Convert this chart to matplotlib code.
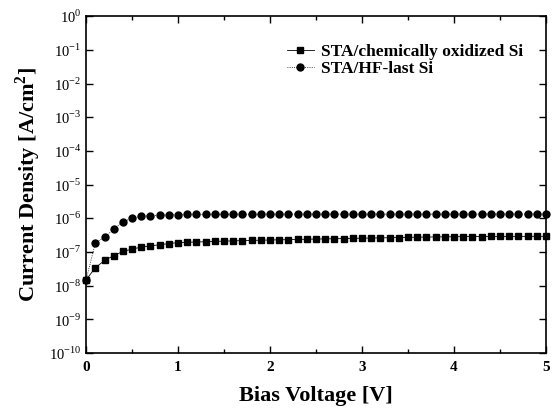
import numpy as np
import matplotlib
matplotlib.use("Agg")
import matplotlib.pyplot as plt
from matplotlib.ticker import FixedLocator, NullLocator, MultipleLocator

voltage = [round(0.1 * i, 1) for i in range(51)]

chem_ox = [1.5e-8, 3.4e-8, 5.6e-8, 7.8e-8, 1.04e-7, 1.22e-7, 1.40e-7, 1.52e-7, 1.64e-7, 1.78e-7,
           1.90e-7, 1.95e-7, 1.98e-7, 2.02e-7, 2.06e-7, 2.10e-7, 2.14e-7, 2.18e-7, 2.21e-7, 2.24e-7,
           2.27e-7, 2.30e-7, 2.33e-7, 2.36e-7, 2.39e-7, 2.42e-7, 2.45e-7, 2.48e-7, 2.51e-7, 2.54e-7,
           2.57e-7, 2.60e-7, 2.63e-7, 2.66e-7, 2.69e-7, 2.72e-7, 2.75e-7, 2.78e-7, 2.80e-7, 2.82e-7,
           2.84e-7, 2.86e-7, 2.87e-7, 2.88e-7, 2.89e-7, 2.90e-7, 2.90e-7, 2.91e-7, 2.91e-7, 2.92e-7,
           2.92e-7]

hf_last = [1.5e-8, 1.84e-7, 2.76e-7, 4.7e-7, 8.0e-7, 1.0e-6, 1.15e-6, 1.20e-6, 1.24e-6, 1.27e-6,
           1.29e-6, 1.30e-6, 1.30e-6, 1.31e-6, 1.31e-6, 1.31e-6, 1.32e-6, 1.32e-6, 1.32e-6, 1.32e-6,
           1.33e-6, 1.33e-6, 1.33e-6, 1.33e-6, 1.33e-6, 1.33e-6, 1.33e-6, 1.33e-6, 1.33e-6, 1.33e-6,
           1.33e-6, 1.33e-6, 1.33e-6, 1.33e-6, 1.33e-6, 1.33e-6, 1.33e-6, 1.33e-6, 1.33e-6, 1.33e-6,
           1.33e-6, 1.33e-6, 1.33e-6, 1.33e-6, 1.34e-6, 1.34e-6, 1.34e-6, 1.34e-6, 1.34e-6, 1.34e-6,
           1.34e-6]

labels = ["STA/chemically oxidized Si", "STA/HF-last Si"]
y_exponents = list(range(-10, 1))
x_ticks = [0, 1, 2, 3, 4, 5]

plt.rcParams['font.family'] = ['Liberation Serif', 'DejaVu Serif']
plt.rcParams['mathtext.fontset'] = 'custom'
plt.rcParams['mathtext.rm'] = 'Liberation Serif'
plt.rcParams['mathtext.bf'] = 'Liberation Serif:bold'

fig = plt.figure(figsize=(5.52, 4.13), dpi=100)
ax = fig.add_axes([0.156, 0.145, 0.833, 0.816])

ax.plot(voltage, chem_ox, color='black', linestyle='-', linewidth=0.6, marker='s',
        markersize=4.6, label=labels[0], clip_on=False)
ax.plot(voltage, hf_last, color='black', linestyle=':', linewidth=0.6, marker='o',
        markersize=5.0, label=labels[1], clip_on=False)

ax.set_yscale('log')
ax.set_xlim(0, 5)
ax.set_ylim(1e-10, 1)

ax.yaxis.set_major_locator(FixedLocator([10.0 ** e for e in y_exponents]))
ax.yaxis.set_minor_locator(NullLocator())
ax.set_yticklabels([r'$10^{%d}$' % e for e in y_exponents], fontsize=10.5)
ax.set_xticks(x_ticks)
ax.set_xticklabels([str(t) for t in x_ticks], fontsize=11, fontweight='bold')
ax.xaxis.set_minor_locator(MultipleLocator(0.5))

ax.tick_params(which='both', direction='in', top=True, right=True)
ax.tick_params(which='major', length=5, width=1)
ax.tick_params(which='minor', length=3, width=1)
ax.tick_params(axis='x', pad=6)
for s in ax.spines.values():
    s.set_linewidth(1.2)

ax.set_xlabel('Bias Voltage [V]', fontsize=16, fontweight='bold', labelpad=8)
ax.set_ylabel(r'Current Density [A/cm$^{\mathbf{2}}$]', fontsize=16, fontweight='bold', labelpad=4)

leg = ax.legend(loc='upper right', bbox_to_anchor=(0.985, 0.965), frameon=False,
                prop={'weight': 'bold', 'size': 12.5}, handlelength=1.6,
                handletextpad=0.4, labelspacing=0.05, markerscale=1.0)

fig.savefig('out.png', dpi=100)
